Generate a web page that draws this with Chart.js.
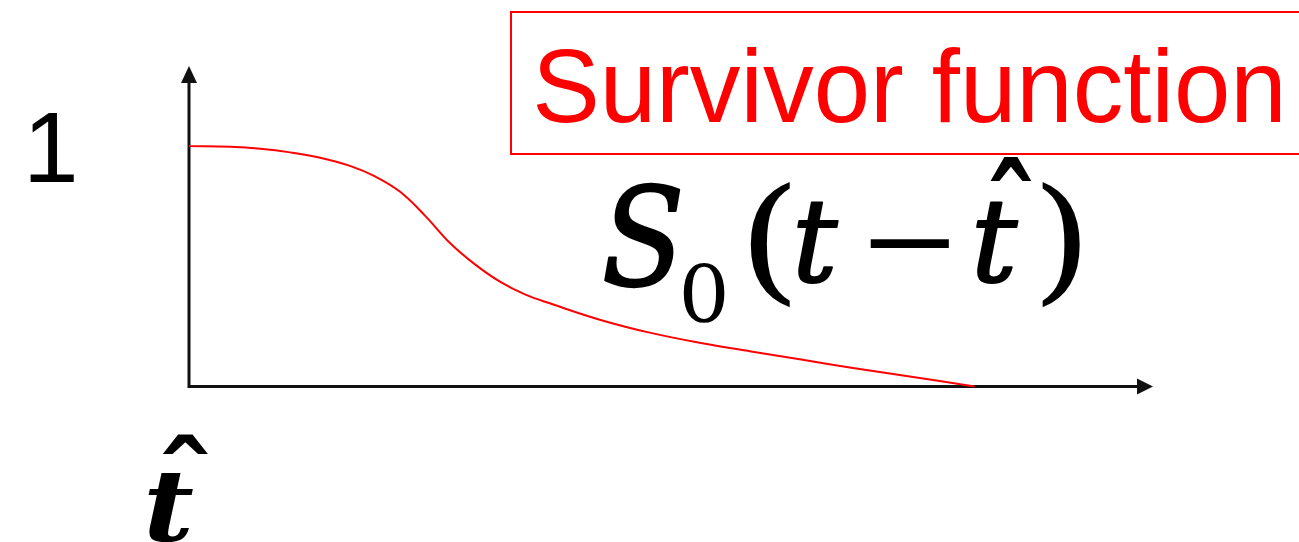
<!DOCTYPE html>
<html>
<head>
<meta charset="utf-8">
<title>Survivor function</title>
<script src="https://cdn.jsdelivr.net/npm/chart.js@4"></script>
<style>
  html, body { margin: 0; padding: 0; background: #fff; }
  canvas { display: block; }
</style>
</head>
<body>
<canvas id="survivor-chart" width="1299" height="542"></canvas>
<script>
/* ---------- data ---------- */

// time since t-hat, and the survivor value at that time
const timeVals = [0, 0.43, 0.74, 1.05, 1.36, 1.67, 1.93, 2.19, 2.45, 2.71, 2.97, 3.23, 3.49, 3.75, 4.27, 4.79, 5.31, 5.83, 6.35, 6.87, 7.39, 8.15];
const survVals = [1.0, 0.997, 0.989, 0.974, 0.952, 0.918, 0.874, 0.81, 0.71, 0.596, 0.507, 0.435, 0.382, 0.345, 0.277, 0.223, 0.181, 0.146, 0.112, 0.078, 0.047, 0];

// only tick that gets a label on the vertical axis
const yTickVals = [1];

const xMax = 10;
const yMax = 4 / 3;

const SANS = '"Liberation Sans", Arial, sans-serif';
const SERIF = '"DejaVu Serif", serif';

/* ---------- helpers ---------- */

// draw a string so that its ink fills the given box; 'bold' thickens the strokes a little
function fitText(ctx, text, font, box, bold) {
    ctx.save();
    ctx.font = font;
    ctx.textAlign = 'left';
    ctx.textBaseline = 'alphabetic';
    const m = ctx.measureText(text);
    const w = m.actualBoundingBoxLeft + m.actualBoundingBoxRight;
    const h = m.actualBoundingBoxAscent + m.actualBoundingBoxDescent;
    const sx = box.w / w;
    const sy = box.h / h;
    ctx.translate(box.x, box.y);
    ctx.scale(sx, sy);
    ctx.fillText(text, m.actualBoundingBoxLeft, m.actualBoundingBoxAscent);
    if (bold) {
        ctx.strokeStyle = ctx.fillStyle;
        ctx.lineWidth = bold / Math.min(sx, sy);
        ctx.lineJoin = 'round';
        ctx.strokeText(text, m.actualBoundingBoxLeft, m.actualBoundingBoxAscent);
    }
    ctx.restore();
}

function arrowHead(ctx, tipX, tipY, dir) {
    ctx.beginPath();
    if (dir === 'up') {
        ctx.moveTo(tipX, tipY);
        ctx.lineTo(tipX - 8, tipY + 17);
        ctx.lineTo(tipX + 8, tipY + 17);
    } else {
        ctx.moveTo(tipX, tipY);
        ctx.lineTo(tipX - 16, tipY - 8);
        ctx.lineTo(tipX - 16, tipY + 8);
    }
    ctx.closePath();
    ctx.fill();
}

/* ---------- axes with arrows + labels ---------- */

const axesPlugin = {
    id: 'arrowAxes',
    beforeDatasetsDraw(chart) {
        const ctx = chart.ctx;
        const xs = chart.scales.x;
        const ys = chart.scales.y;
        const x0 = xs.getPixelForValue(0);
        const y0 = ys.getPixelForValue(0);
        const top = ys.getPixelForValue(yMax);
        const right = xs.getPixelForValue(xMax);

        ctx.save();
        ctx.strokeStyle = '#111';
        ctx.fillStyle = '#111';
        ctx.lineWidth = 3;
        ctx.lineCap = 'square';
        ctx.beginPath();
        ctx.moveTo(x0, top + 14);
        ctx.lineTo(x0, y0);
        ctx.lineTo(right - 14, y0);
        ctx.stroke();
        arrowHead(ctx, x0, top, 'up');
        arrowHead(ctx, right, y0, 'right');

        // tick label "1"
        ctx.fillStyle = '#000';
        ctx.font = '100px ' + SANS;
        ctx.textAlign = 'left';
        ctx.textBaseline = 'alphabetic';
        yTickVals.forEach(v => {
            const py = ys.getPixelForValue(v);
            const m = ctx.measureText(String(v));
            ctx.fillText(String(v), x0 - 159 + m.actualBoundingBoxLeft, py + 36);
        });

        // t-hat under the origin
        fitText(ctx, 't', 'italic bold 117px ' + SERIF, { x: x0 - 41, y: y0 + 86, w: 45, h: 70 });
        fitText(ctx, '\u02C6', 'bold 117px ' + SERIF, { x: x0 - 27, y: y0 + 47, w: 46, h: 20 });
        ctx.restore();
    },
    afterDraw(chart) {
        const ctx = chart.ctx;
        ctx.save();

        // boxed title
        ctx.strokeStyle = '#ff0000';
        ctx.lineWidth = 2;
        ctx.strokeRect(511, 12, 820, 142);
        ctx.fillStyle = '#ff0000';
        fitText(ctx, 'Survivor function', '106px ' + SANS, { x: 536, y: 46, w: 745, h: 77 });

        // S_0(t - t-hat)
        ctx.fillStyle = '#000';
        fitText(ctx, 'S', 'italic 150px ' + SERIF, { x: 605, y: 183, w: 75, h: 104 }, 2);
        fitText(ctx, '0', '90px ' + SERIF, { x: 683, y: 263, w: 42, h: 60 });
        fitText(ctx, '(', '150px ' + SERIF, { x: 750, y: 182, w: 40, h: 126 });
        fitText(ctx, 't', 'italic 150px ' + SERIF, { x: 798, y: 202, w: 40, h: 81 }, 2);
        fitText(ctx, '\u2212', '150px ' + SERIF, { x: 870, y: 239, w: 79, h: 9 });
        fitText(ctx, 't', 'italic 150px ' + SERIF, { x: 977, y: 202, w: 41, h: 81 }, 2);
        fitText(ctx, '\u02C6', 'bold 150px ' + SERIF, { x: 990, y: 158, w: 42, h: 24 });
        fitText(ctx, ')', '150px ' + SERIF, { x: 1042, y: 182, w: 38, h: 126 });
        ctx.restore();
    }
};

/* ---------- chart ---------- */

const survCanvas = document.getElementById('survivor-chart');

const survData = {
    datasets: [{
        data: timeVals.map((t, i) => ({ x: t, y: survVals[i] })),
        borderColor: '#ff0000',
        borderWidth: 2,
        pointRadius: 0,
        fill: false,
        tension: 0.4,
        clip: false
    }]
};

const survOptions = {
    responsive: false,
    animation: false,
    layout: {
        padding: { left: 189, right: 146, top: 66, bottom: 155.5 }
    },
    scales: {
        x: { type: 'linear', min: 0, max: xMax, display: false },
        y: { min: 0, max: yMax, display: false }
    },
    plugins: {
        legend: { display: false },
        tooltip: { enabled: false }
    }
};

let survChart = new Chart(survCanvas, {
    type: 'line',
    data: survData,
    options: survOptions,
    plugins: [axesPlugin]
});
</script>
</body>
</html>
